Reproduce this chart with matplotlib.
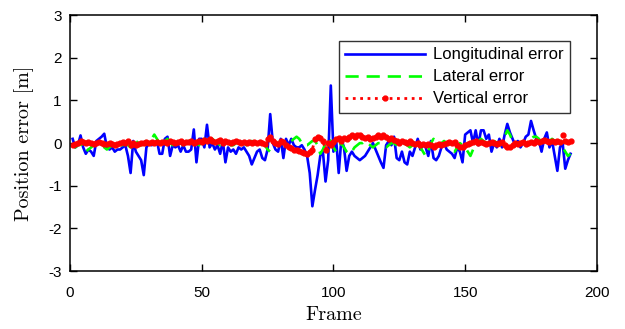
import matplotlib
matplotlib.use("Agg")
import matplotlib.pyplot as plt
import numpy as np

# frame numbers and position errors [m]
frames = np.arange(1, 191)

longitudinal = [
    0.10, -0.10, -0.05, 0.18, -0.10, -0.25, -0.15, -0.20, -0.30, 0.05,
    0.10, 0.15, 0.22, -0.10, -0.15, -0.10, -0.20, -0.15, -0.15, -0.10,
    -0.05, -0.30, -0.70, 0.05, -0.20, -0.30, -0.40, -0.75, -0.10, 0.00,
    -0.05, 0.00, 0.05, -0.25, -0.25, 0.10, 0.15, -0.30, -0.05, -0.10,
    -0.05, -0.20, -0.05, -0.20, -0.20, -0.15, 0.32, -0.45, 0.10, 0.10,
    -0.10, 0.43, -0.10, 0.00, -0.15, -0.05, -0.25, 0.05, -0.45, -0.10,
    -0.20, -0.15, -0.25, -0.10, -0.15, -0.10, -0.20, -0.30, -0.50, -0.35,
    -0.20, -0.15, -0.35, -0.40, -0.15, 0.68, 0.00, -0.15, -0.20, 0.10,
    -0.35, 0.10, -0.05, 0.10, -0.05, -0.10, -0.10, -0.05, -0.15, -0.30,
    -0.70, -1.48, -1.10, -0.75, -0.30, -0.20, -0.90, -0.40, 1.35, -0.20,
    0.10, -0.70, 0.10, -0.10, -0.65, -0.30, -0.20, -0.30, -0.35, -0.40,
    -0.35, -0.30, -0.20, -0.10, 0.00, -0.15, -0.30, -0.45, -0.58, -0.05,
    0.05, -0.05, 0.15, -0.35, -0.40, -0.20, -0.45, -0.50, -0.20, -0.30,
    -0.10, 0.10, -0.15, -0.05, -0.10, -0.30, 0.05, -0.35, -0.40, -0.30,
    -0.10, 0.00, -0.15, -0.20, -0.25, -0.35, -0.10, -0.20, -0.45, 0.20,
    0.25, 0.30, 0.00, 0.30, -0.05, 0.30, 0.30, 0.10, 0.20, -0.20,
    0.00, -0.10, 0.10, -0.10, 0.20, 0.45, 0.25, 0.10, -0.05, 0.05,
    -0.10, 0.00, 0.15, 0.20, 0.52, 0.30, 0.10, 0.05, -0.20, 0.10,
    0.25, -0.10, 0.05, -0.30, -0.65, -0.10, 0.00, -0.60, -0.40, -0.25,
]

lateral = [
    -0.05, -0.10, -0.05, 0.00, -0.10, -0.20, -0.15, -0.10, -0.05, 0.00,
    0.00, -0.05, -0.10, -0.15, -0.10, -0.05, 0.00, 0.00, -0.05, -0.05,
    0.00, -0.05, -0.10, 0.00, 0.05, 0.00, -0.05, 0.00, 0.05, 0.05,
    0.10, 0.20, 0.10, 0.00, -0.05, 0.05, 0.10, 0.00, -0.05, 0.00,
    0.05, 0.00, -0.05, 0.00, 0.05, 0.00, 0.05, 0.00, -0.05, 0.05,
    0.10, 0.05, 0.00, 0.10, 0.05, 0.00, -0.05, 0.00, 0.05, 0.00,
    -0.05, -0.05, 0.00, 0.00, 0.05, 0.00, -0.05, 0.00, 0.05, 0.00,
    -0.05, 0.00, 0.00, -0.05, -0.15, -0.20, -0.15, -0.05, 0.00, 0.05,
    0.00, -0.05, 0.00, 0.05, 0.10, 0.15, 0.10, 0.00, -0.05, -0.05,
    0.00, 0.05, 0.05, -0.05, -0.25, -0.15, 0.00, 0.10, 0.05, -0.10,
    -0.20, -0.10, 0.00, -0.10, -0.20, -0.25, -0.20, -0.10, -0.05, 0.00,
    0.00, 0.05, 0.00, -0.05, -0.10, -0.05, 0.00, 0.00, -0.05, -0.10,
    -0.05, 0.00, 0.00, -0.05, -0.10, -0.05, 0.00, -0.05, -0.10, -0.05,
    0.00, 0.05, -0.10, -0.20, -0.30, -0.20, 0.00, 0.10, 0.00, -0.05,
    0.00, 0.05, 0.00, -0.10, -0.15, -0.20, -0.10, 0.00, -0.05, -0.10,
    -0.20, -0.30, -0.15, 0.00, 0.05, 0.10, 0.05, 0.00, -0.05, 0.00,
    0.05, 0.00, -0.05, 0.00, 0.15, 0.30, 0.20, 0.05, 0.00, -0.05,
    0.00, 0.05, 0.00, 0.05, 0.10, 0.15, 0.15, 0.10, 0.00, -0.05,
    0.00, 0.05, 0.10, 0.05, 0.00, -0.05, -0.10, -0.20, -0.30, -0.25,
]

vertical = [
    -0.05, -0.02, 0.00, 0.05, 0.02, 0.00, 0.03, 0.00, -0.02, 0.00,
    0.02, 0.00, -0.03, -0.02, 0.00, -0.03, -0.05, -0.02, 0.00, 0.03,
    0.00, 0.05, -0.05, 0.00, -0.05, -0.03, 0.00, 0.00, 0.02, 0.00,
    0.02, 0.00, 0.03, 0.00, 0.02, 0.03, 0.00, 0.05, 0.02, 0.00,
    0.03, 0.05, 0.00, 0.02, 0.03, 0.05, 0.00, 0.02, 0.05, 0.03,
    0.07, 0.05, 0.10, 0.05, 0.02, 0.05, 0.08, 0.00, 0.05, 0.02,
    0.00, 0.03, 0.05, 0.02, 0.00, 0.03, 0.00, 0.02, 0.00, 0.03,
    0.00, 0.02, 0.00, -0.03, 0.10, 0.15, 0.05, 0.00, -0.03, 0.05,
    0.02, -0.05, -0.10, -0.12, -0.15, -0.15, -0.18, -0.20, -0.22, -0.25,
    -0.20, -0.15, 0.10, 0.15, 0.12, 0.05, -0.15, 0.00, -0.05, 0.02,
    0.10, 0.12, 0.05, 0.12, 0.10, 0.15, 0.18, 0.15, 0.18, 0.20,
    0.15, 0.13, 0.15, 0.10, 0.12, 0.15, 0.18, 0.15, 0.18, 0.15,
    0.10, 0.12, 0.08, 0.05, 0.00, 0.05, 0.02, 0.00, 0.05, 0.00,
    -0.02, 0.00, -0.05, -0.03, -0.05, -0.02, -0.05, -0.08, -0.05, -0.03,
    -0.05, -0.03, 0.00, 0.02, 0.00, 0.03, -0.05, -0.10, -0.08, -0.05,
    -0.02, 0.00, 0.02, 0.05, 0.00, 0.02, 0.00, -0.03, 0.00, 0.02,
    0.00, -0.03, 0.00, 0.02, -0.05, -0.08, -0.10, -0.05, 0.00, -0.03,
    0.00, 0.02, -0.02, 0.00, 0.02, 0.00, 0.05, 0.03, 0.05, 0.08,
    0.05, 0.02, 0.05, 0.03, 0.05, 0.02, 0.18, 0.05, 0.03, 0.05,
]

fig = plt.figure(figsize=(6.25, 3.29), dpi=100)
ax = fig.add_axes([0.112, 0.176, 0.843, 0.778])

ax.plot(frames, longitudinal, color="#0000ff", lw=1.9, label="Longitudinal error")
ax.plot(frames, lateral, color="#00ff00", lw=1.9, ls=(0, (5, 3)), label="Lateral error")
ax.plot(frames, vertical, color="#ff0000", lw=2.0, ls=":", marker=".", ms=7,
        label="Vertical error")

ax.set_xlim(0, 200)
ax.set_ylim(-3, 3)
ax.set_xticks([0, 50, 100, 150, 200])
ax.set_yticks([-3, -2, -1, 0, 1, 2, 3])
ax.set_yticklabels(["-3", "-2", "-1", "0", "1", "2", "3"])
ax.tick_params(direction="in", top=True, right=True, length=5, width=1,
               labelsize=11)
ax.tick_params(axis="x", pad=11)
ax.tick_params(axis="y", pad=6)
for lab in ax.get_xticklabels() + ax.get_yticklabels():
    lab.set_fontfamily("Liberation Sans")
for s in ax.spines.values():
    s.set_linewidth(1.1)

ax.set_xlabel("Frame", fontfamily="cmr10", fontsize=14.5, labelpad=4)
ax.set_ylabel("Position error [m]", fontfamily="cmr10", fontsize=14.5, labelpad=10)

leg = ax.legend(loc="upper left", bbox_to_anchor=(0.51, 0.9), fancybox=False,
                framealpha=1, edgecolor="#333333", handlelength=4.8,
                prop={"family": "Liberation Sans", "size": 12},
                borderpad=0.4, labelspacing=0.42, handletextpad=0.45,
                borderaxespad=0)
leg.get_frame().set_linewidth(1.0)

fig.savefig("out.png", dpi=100)
